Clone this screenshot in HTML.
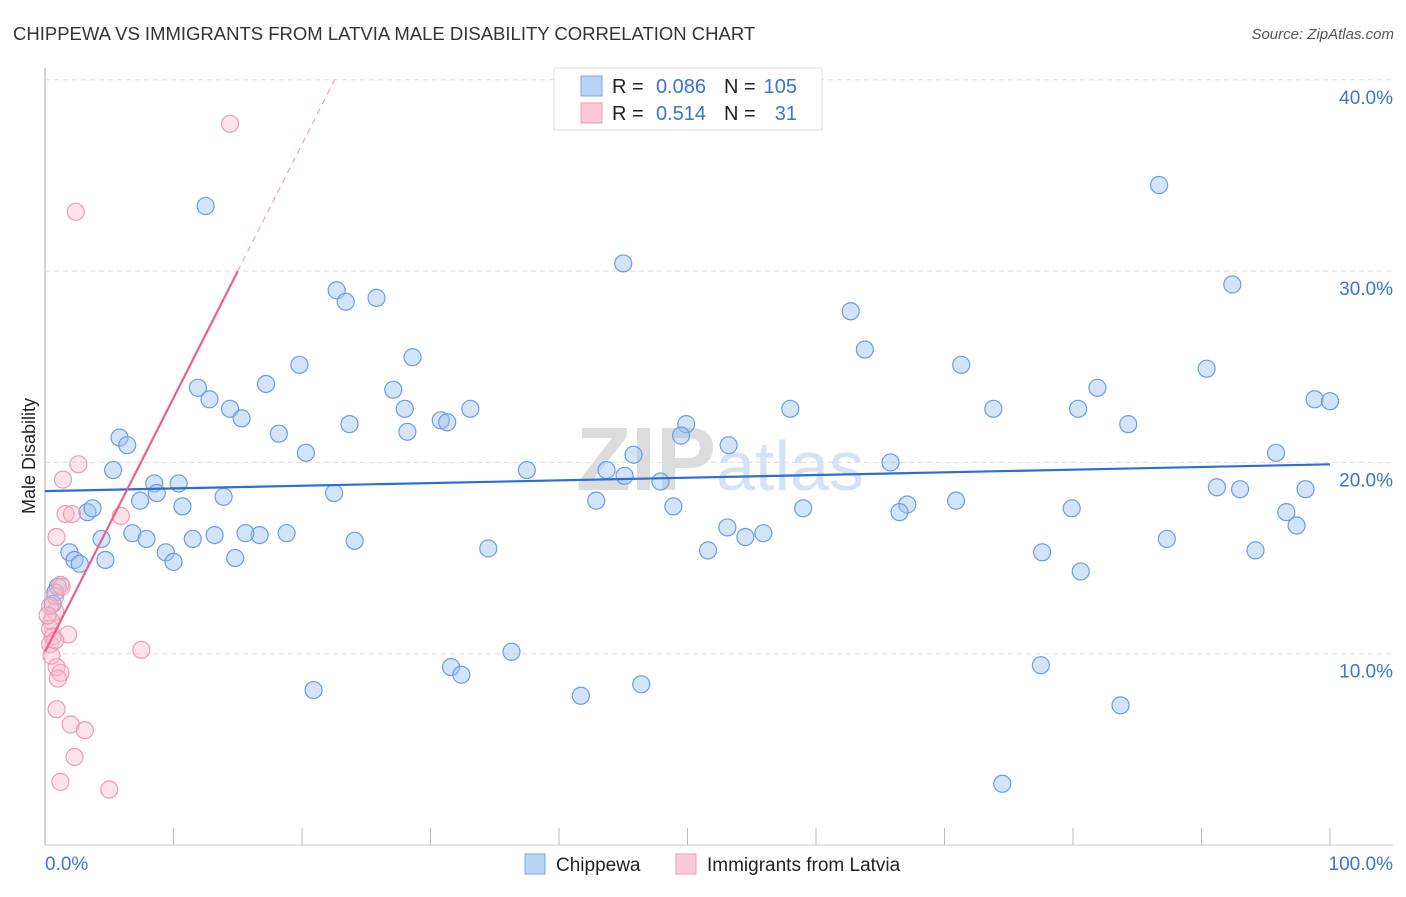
<!DOCTYPE html>
<html><head><meta charset="utf-8"><style>
body{margin:0;background:#fff;font-family:"Liberation Sans",sans-serif;}
svg text{font-family:"Liberation Sans",sans-serif;}
</style></head><body>
<svg id="chart" width="1406" height="892">
<text x="13" y="40" font-size="18.5" fill="#333">CHIPPEWA VS IMMIGRANTS FROM LATVIA MALE DISABILITY CORRELATION CHART</text>
<text x="1394" y="39" font-size="15" fill="#555" text-anchor="end" font-style="italic">Source: ZipAtlas.com</text>
<text x="35" y="456" font-size="18" fill="#222" text-anchor="middle" transform="rotate(-90 35 456)">Male Disability</text>
<text x="720" y="490" font-size="90" fill="#e6e6e6" text-anchor="middle" font-family="Liberation Serif"><tspan font-weight="bold" fill="#dcdcdc">ZIP</tspan><tspan fill="#d4e2f4" font-family="Liberation Sans" font-size="70">atlas</tspan></text>
<g id="grid"></g><g id="pts"></g><g id="lines"></g>
<g>
<rect x="554" y="68" width="268" height="62" fill="#fff" stroke="#ddd"/>
<rect x="581" y="76" width="21" height="20" fill="#b9d3f6" stroke="#7aa7e6"/>
<rect x="581" y="103" width="21" height="20" fill="#fcc9d8" stroke="#f09bb5"/>
<text x="612" y="93" font-size="20" fill="#222">R =</text>
<text x="706" y="93" font-size="20" fill="#3b74d1" text-anchor="end">0.086</text>
<text x="724" y="93" font-size="20" fill="#222">N =</text>
<text x="797" y="93" font-size="20" fill="#3b74d1" text-anchor="end">105</text>
<text x="612" y="120" font-size="20" fill="#222">R =</text>
<text x="706" y="120" font-size="20" fill="#3b74d1" text-anchor="end">0.514</text>
<text x="724" y="120" font-size="20" fill="#222">N =</text>
<text x="797" y="120" font-size="20" fill="#3b74d1" text-anchor="end">31</text>
</g>
<g>
<rect x="525" y="854" width="20" height="20" fill="#b9d3f6" stroke="#7aa7e6"/>
<text x="556" y="871" font-size="19" fill="#222">Chippewa</text>
<rect x="676" y="854" width="20" height="20" fill="#fcc9d8" stroke="#f09bb5"/>
<text x="707" y="871" font-size="19" fill="#222">Immigrants from Latvia</text>
</g>
</svg>
<script>
const yTicks=[10,20,30,40];
const blueX=[12.5,45,22.7,23.4,25.8,86.7,92.4,62.7,63.8,19.8,28.6,27.1,71.3,90.4,17.2,11.9,12.8,14.4,15.3,28,33.1,30.8,31.3,23.7,58,73.8,80.4,81.9,84.3,98.8,100,5.8,6.4,18.2,28.2,49.9,49.5,53.2,20.3,45.8,5.3,37.5,43.7,45.1,65.8,95.8,8.5,10.4,8.7,22.5,47.9,7.4,10.7,13.9,3.3,3.7,42.9,48.9,59,67.1,66.5,70.9,79.9,91.2,93,98.1,96.6,97.4,13.2,11.5,16.7,18.8,24.1,6.8,7.9,4.4,15.6,53.1,54.5,55.9,1.9,2.3,2.7,4.7,9.4,10,14.8,34.5,51.6,77.6,87.3,94.2,1,0.8,80.6,36.3,31.6,32.4,77.5,20.9,41.7,46.4,83.7,74.5,0.6];
const blueY=[33.4,30.4,29.0,28.4,28.6,34.5,29.3,27.9,25.9,25.1,25.5,23.8,25.1,24.9,24.1,23.9,23.3,22.8,22.3,22.8,22.8,22.2,22.1,22.0,22.8,22.8,22.8,23.9,22.0,23.3,23.2,21.3,20.9,21.5,21.6,22.0,21.4,20.9,20.5,20.4,19.6,19.6,19.6,19.3,20.0,20.5,18.9,18.9,18.4,18.4,19.0,18.0,17.7,18.2,17.4,17.6,18.0,17.7,17.6,17.8,17.4,18.0,17.6,18.7,18.6,18.6,17.4,16.7,16.2,16.0,16.2,16.3,15.9,16.3,16.0,16.0,16.3,16.6,16.1,16.3,15.3,14.9,14.7,14.9,15.3,14.8,15.0,15.5,15.4,15.3,16.0,15.4,13.5,13.2,14.3,10.1,9.3,8.9,9.4,8.1,7.8,8.4,7.3,3.2,12.6];
const pinkX=[14.4,2.4,2.6,1.4,1.6,2.1,5.9,0.9,1.2,0.8,0.8,0.5,0.4,0.6,1.8,0.4,7.5,0.9,1.2,1,0.9,2,3.1,2.3,1.2,5,0.4,0.2,0.5,1.3,0.8];
const pinkY=[37.7,33.1,19.9,19.1,17.3,17.3,17.2,16.1,13.6,13.0,12.2,11.7,11.3,10.9,11.0,10.5,10.2,9.3,9.0,8.7,7.1,6.3,6.0,4.6,3.3,2.9,12.5,12.0,9.9,13.5,10.7];
const blueTrend=[18.5,19.9], pinkTrend=[10.1,30.0], pinkSolidEnd=15, pinkDashEnd=22.6;
const X=v=>45+v*12.85, Y=v=>845-v*19.13;
const NS="http://www.w3.org/2000/svg";
function mk(p,t,a){const e=document.createElementNS(NS,t);for(const k in a)e.setAttribute(k,a[k]);p.appendChild(e);return e;}
const grid=document.getElementById('grid');
mk(grid,'line',{x1:45,y1:68,x2:45,y2:845,stroke:'#aaa'});
mk(grid,'line',{x1:45,y1:845,x2:1393,y2:845,stroke:'#ccc'});
yTicks.forEach(t=>{
 const l=mk(grid,'line',{x1:45,y1:Y(t),x2:1393,y2:Y(t),stroke:'#ddd','stroke-dasharray':'5,4'});
 
 
 const tx=mk(grid,'text',{x:1393,y:Y(t)+24,'font-size':19,fill:'#3b74d1','text-anchor':'end'});
 tx.textContent=t.toFixed(1)+'%';
 
 
});
for(let i=1;i<=10;i++){mk(grid,'line',{x1:X(i*10),y1:828,x2:X(i*10),y2:845,stroke:'#bbb'});}
const xl=mk(grid,'text',{x:45,y:870,'font-size':19,fill:'#3b74d1'});xl.textContent='0.0%';


const xr=mk(grid,'text',{x:1393,y:870,'font-size':19,fill:'#3b74d1','text-anchor':'end'});xr.textContent='100.0%';


const pts=document.getElementById('pts');
blueX.forEach((v,i)=>{const c=mk(pts,'circle',{cx:X(v),cy:Y(blueY[i]),r:8.5,fill:'rgba(160,196,240,0.45)',stroke:'#6b9de0','stroke-width':1.2});

});
pinkX.forEach((v,i)=>{const c=mk(pts,'circle',{cx:X(v),cy:Y(pinkY[i]),r:8.5,fill:'rgba(250,185,205,0.4)',stroke:'#ef9ab4','stroke-width':1.2});

});
const lines=document.getElementById('lines');
const bl=mk(lines,'line',{x1:X(0),y1:Y(blueTrend[0]),x2:X(100),y2:Y(blueTrend[1]),stroke:'#2a6fd6','stroke-width':2.2});


const py=x=>pinkTrend[0]+(pinkTrend[1]-pinkTrend[0])*x/pinkSolidEnd;
const pl=mk(lines,'line',{x1:X(0),y1:Y(py(0)),x2:X(pinkSolidEnd),y2:Y(py(pinkSolidEnd)),stroke:'#e8608e','stroke-width':2.2});


const pd=mk(lines,'line',{x1:X(pinkSolidEnd),y1:Y(py(pinkSolidEnd)),x2:X(pinkDashEnd),y2:Y(py(pinkDashEnd)),stroke:'#f0a0b8','stroke-width':1.2,'stroke-dasharray':'6,5'});


</script>
</body></html>
